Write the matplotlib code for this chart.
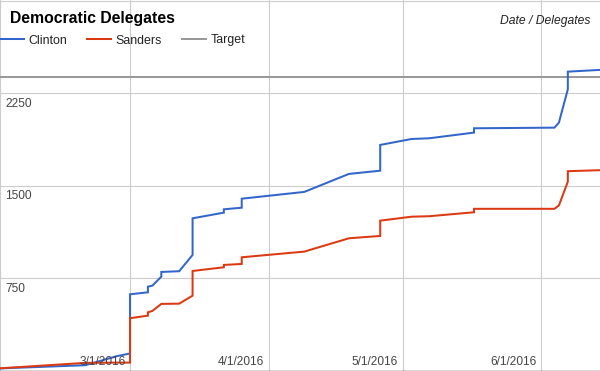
import matplotlib
matplotlib.use("Agg")
import matplotlib.pyplot as plt
import matplotlib.dates as mdates
from matplotlib.lines import Line2D
import numpy as np
import pandas as pd

plt.rcParams['font.family'] = ['Liberation Sans', 'DejaVu Sans']

# ---- data ----
dates = ["2016-02-01", "2016-02-20", "2016-02-27", "2016-03-01", "2016-03-01",
         "2016-03-05", "2016-03-05", "2016-03-06", "2016-03-08", "2016-03-08",
         "2016-03-12", "2016-03-15", "2016-03-15", "2016-03-22", "2016-03-22",
         "2016-03-26", "2016-03-26", "2016-04-09", "2016-04-19", "2016-04-26",
         "2016-04-26", "2016-05-03", "2016-05-07", "2016-05-17", "2016-05-17",
         "2016-06-04", "2016-06-05", "2016-06-07", "2016-06-07", "2016-06-14"]
clinton = [19, 45, 118, 140, 620, 636, 682, 690, 763, 801,
           807, 939, 1236, 1282, 1309, 1322, 1395, 1450, 1596, 1622,
           1831, 1879, 1885, 1931, 1966, 1971, 2012, 2282, 2425, 2439]
sanders = [20, 64, 66, 66, 426, 447, 474, 485, 542, 542,
           544, 609, 809, 839, 858, 866, 920, 966, 1074, 1093,
           1217, 1249, 1253, 1285, 1313, 1313, 1340, 1533, 1618, 1626]
target = 2383
series_names = ["Clinton", "Sanders", "Target"]
colors = ["#3366CC", "#DC3912", "#999999"]
y_ticks = [750, 1500, 2250, 3000]
y_tick_labels = ["750", "1500", "2250", ""]
x_ticks = ["2016-02-01", "2016-03-01", "2016-04-01", "2016-05-01", "2016-06-01"]
x_tick_labels = ["", "3/1/2016", "4/1/2016", "5/1/2016", "6/1/2016"]
title = "Democratic Delegates"
axis_title = "Date / Delegates"

# ---- figure ----
W, H = 600, 371
fig = plt.figure(figsize=(W / 100, H / 100), dpi=100)
ax = fig.add_axes([0, 0, 1, 1])
ax.set_axis_off()

d = pd.to_datetime(dates)
x0 = mdates.date2num(pd.Timestamp("2016-02-01"))
ax.set_xlim(x0 - 0.11, x0 + 134.2)
ax.set_ylim(-2, 3006)

lw = 1.45
grid_c = "#cccccc"
for t in y_ticks:
    ax.axhline(t, color=grid_c, lw=0.8, zorder=1)
for t in x_ticks:
    ax.axvline(mdates.date2num(pd.Timestamp(t)), color=grid_c, lw=0.8, zorder=1)
ax.axhline(0, color="#333333", lw=1.0, zorder=5)

ax.axhline(target, color=colors[2], lw=lw, zorder=2)
ax.plot(d, clinton, color=colors[0], lw=lw, zorder=3, solid_joinstyle='miter')
ax.plot(d, sanders, color=colors[1], lw=lw, zorder=4, solid_joinstyle='miter')

# y labels
for t, lab in zip(y_ticks, y_tick_labels):
    if lab:
        ax.annotate(lab, xy=(0, t), xycoords=("axes fraction", "data"),
                    xytext=(5, -13.4), textcoords="offset pixels",
                    ha="left", va="baseline", fontsize=8.6, color="#444444", zorder=6)
# x labels
for t, lab in zip(x_ticks, x_tick_labels):
    if lab:
        ax.annotate(lab, xy=(mdates.date2num(pd.Timestamp(t)), 0),
                    xycoords=("data", "axes fraction"),
                    xytext=(-4.5, 6), textcoords="offset pixels",
                    ha="right", va="baseline", fontsize=8.6, color="#444444", zorder=6)

# title / legend / axis title (pixel coords from top-left)
def fx(px):
    return px / W

def fy(py):
    return 1 - py / H

fig.text(fx(9.7), fy(23.5), title, fontsize=11.3, fontweight="bold",
         color="#000000", ha="left", va="baseline")
fig.text(fx(590.5), fy(24.3), axis_title, fontsize=8.7, style="italic",
         color="#222222", ha="right", va="baseline")

leg = [(0, 23.5, 28.5), (87.3, 110.7, 115.5), (182.3, 205.7, 210.5)]
for (a, b, tx), name, c in zip(leg, series_names, colors):
    fig.add_artist(Line2D([fx(a), fx(b)], [fy(39), fy(39)], color=c, lw=lw,
                          transform=fig.transFigure))
    fig.text(fx(tx), fy(43.5), name, fontsize=8.9, color="#222222",
             ha="left", va="baseline")

fig.savefig("out.png", dpi=100)
